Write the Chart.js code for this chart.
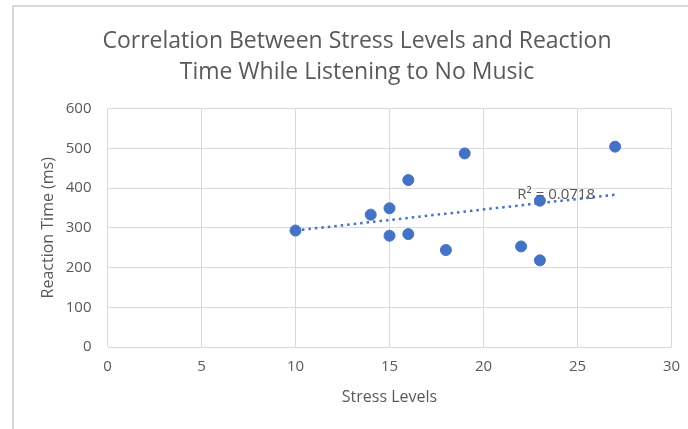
<!DOCTYPE html>
<html>
<head>
<meta charset="utf-8">
<script src="https://cdn.jsdelivr.net/npm/chart.js@4/dist/chart.umd.min.js"></script>
<style>
  html, body { margin: 0; padding: 0; background: #fff; }
  canvas { display: block; }
</style>
</head>
<body>
<canvas id="chart" width="688" height="429"></canvas>
<script>
// stress level vs reaction time (ms)
const stressLevels = [10, 14, 15, 15, 16, 16, 18, 19, 22, 23, 23, 27];
const reactionTimes = [293, 333, 349, 280, 420, 284, 244, 487, 253, 368, 218, 504];

// linear trendline as drawn (two ends)
const trendX = [10, 27];
const trendY = [293, 383];
const rSquaredText = 'R\u00b2 = 0.0718';

const titleLines = ['Correlation Between Stress Levels and Reaction', 'Time While Listening to No Music'];
const xTicks = [0, 5, 10, 15, 20, 25, 30];
const yTicks = [0, 100, 200, 300, 400, 500, 600];

const blue = '#4472C4';
const grey = '#595959';
const gridColor = '#d9d9d9';
const fontFamily = "'Open Sans', 'Noto Sans', sans-serif";

// frame lines, title and R² label
const extras = {
    id: 'extras',
    beforeDraw(chart) {
        const ctx = chart.ctx;
        ctx.save();
        ctx.fillStyle = gridColor;
        ctx.fillRect(12, 5, 2, chart.height - 5);
        ctx.fillRect(12, 5, chart.width - 12, 2);

        ctx.font = '23px ' + fontFamily;
        ctx.fillStyle = grey;
        ctx.textAlign = 'center';
        ctx.textBaseline = 'middle';
        ctx.fillText(titleLines[0], 357, 41);
        ctx.fillText(titleLines[1], 357, 72);
        ctx.restore();
    },
    afterDatasetsDraw(chart) {
        const ctx = chart.ctx;
        const x = chart.scales.x.getPixelForValue(21.8);
        const y = chart.scales.y.getPixelForValue(383);
        ctx.save();
        ctx.font = '15px ' + fontFamily;
        ctx.fillStyle = grey;
        ctx.textAlign = 'left';
        ctx.textBaseline = 'middle';
        ctx.fillText(rSquaredText, x, y);
        ctx.restore();
    }
};

const ctx = document.getElementById('chart').getContext('2d');
new Chart(ctx, {
    type: 'scatter',
    data: {
        datasets: [
            {
                label: 'Reaction Time',
                data: stressLevels.map((x, i) => ({ x: x, y: reactionTimes[i] })),
                backgroundColor: blue,
                borderColor: blue,
                pointRadius: 5.5,
                pointHoverRadius: 5.5,
                order: 1
            },
            {
                label: 'Trend',
                type: 'line',
                data: trendX.map((x, i) => ({ x: x, y: trendY[i] })),
                borderColor: blue,
                borderWidth: 2.5,
                borderDash: [2.5, 4],
                pointRadius: 0,
                fill: false,
                order: 2
            }
        ]
    },
    options: {
        responsive: false,
        animation: false,
        layout: { padding: { left: 0, right: 16.5, top: 108.5, bottom: 0 } },
        plugins: {
            legend: { display: false },
            tooltip: { enabled: false },
            title: { display: false }
        },
        scales: {
            x: {
                type: 'linear',
                min: 0,
                max: 30,
                afterBuildTicks: (scale) => { scale.ticks = xTicks.map(v => ({ value: v })); },
                afterFit: (scale) => {
                    scale.height = 82;
                    scale.paddingLeft = 0;
                    scale.paddingRight = 0;
                },
                grid: { color: gridColor, drawTicks: false, lineWidth: 1 },
                border: { display: false },
                ticks: { color: grey, font: { family: fontFamily, size: 15 }, padding: 11 },
                title: {
                    display: true,
                    text: 'Stress Levels',
                    color: grey,
                    font: { family: fontFamily, size: 16 },
                    padding: { top: 0, bottom: 22 }
                }
            },
            y: {
                type: 'linear',
                min: 0,
                max: 600,
                afterBuildTicks: (scale) => { scale.ticks = yTicks.map(v => ({ value: v })); },
                afterFit: (scale) => {
                    scale.width = 107.5;
                    scale.paddingTop = 0;
                    scale.paddingBottom = 0;
                },
                grid: { color: gridColor, drawTicks: false, lineWidth: 1 },
                border: { display: false },
                ticks: { color: grey, font: { family: fontFamily, size: 15 }, padding: 16 },
                title: {
                    display: true,
                    text: 'Reaction Time (ms)',
                    color: grey,
                    font: { family: fontFamily, size: 16 },
                    padding: { top: 39, bottom: 0 }
                }
            }
        }
    },
    plugins: [extras]
});
</script>
</body>
</html>
